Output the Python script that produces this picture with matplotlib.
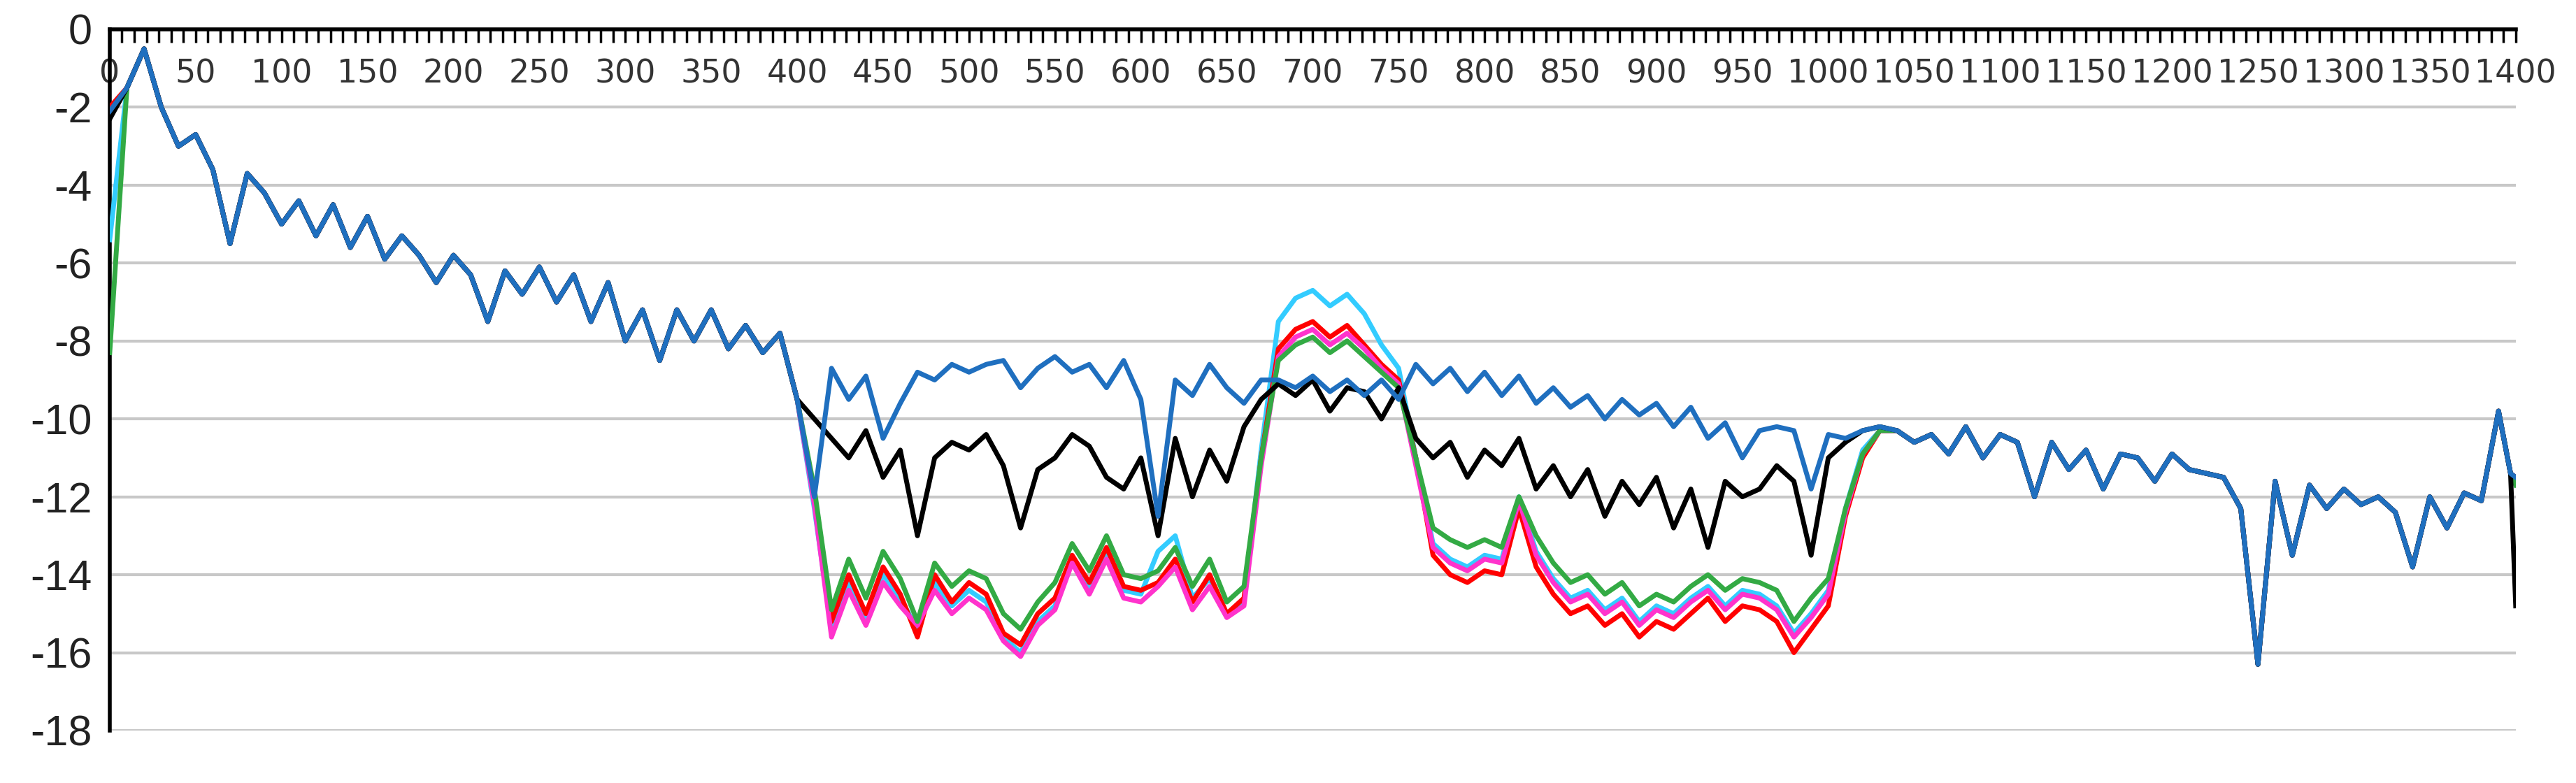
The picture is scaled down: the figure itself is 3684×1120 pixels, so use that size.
import numpy as np
import matplotlib
matplotlib.use("Agg")
import matplotlib.pyplot as plt

# x positions: shared head (0..400), divergent middle (410..1030), shared tail
x_head = list(range(0, 401, 10))
x_mid = list(range(410, 1031, 10))
x_tail = list(range(1040, 1391, 10)) + [1397, 1400]

head = [-2.0, -1.5, -0.5, -2.0, -3.0, -2.7, -3.6, -5.5, -3.7, -4.2,
        -5.0, -4.4, -5.3, -4.5, -5.6, -4.8, -5.9, -5.3, -5.8, -6.5,
        -5.8, -6.3, -7.5, -6.2, -6.8, -6.1, -7.0, -6.3, -7.5, -6.5,
        -8.0, -7.2, -8.5, -7.2, -8.0, -7.2, -8.2, -7.6, -8.3, -7.8, -9.5]
start = {"red": -2.0, "magenta": -2.2, "green": -8.3, "cyan": -5.4,
         "black": -2.3, "blue": -2.1}

tail = [-10.3, -10.6, -10.4, -10.9, -10.2, -11.0, -10.4, -10.6, -12.0, -10.6,
        -11.3, -10.8, -11.8, -10.9, -11.0, -11.6, -10.9, -11.3, -11.4, -11.5,
        -12.3, -16.3, -11.6, -13.5, -11.7, -12.3, -11.8, -12.2, -12.0, -12.4,
        -13.8, -12.0, -12.8, -11.9, -12.1, -9.8, -11.4, -11.5]
end = {"red": -11.5, "magenta": -11.6, "green": -11.7, "cyan": -11.5,
       "black": -14.8, "blue": -11.5}

mid = {
    "red": [-12.0, -15.2, -14.0, -15.0, -13.8, -14.5, -15.6, -14.0, -14.7, -14.2,
            -14.5, -15.5, -15.8, -15.0, -14.6, -13.5, -14.2, -13.3, -14.3, -14.4,
            -14.2, -13.6, -14.7, -14.0, -15.0, -14.6, -11.0, -8.2, -7.7, -7.5,
            -7.9, -7.6, -8.1, -8.6, -9.0, -11.0, -13.5, -14.0, -14.2, -13.9,
            -14.0, -12.3, -13.8, -14.5, -15.0, -14.8, -15.3, -15.0, -15.6, -15.2,
            -15.4, -15.0, -14.6, -15.2, -14.8, -14.9, -15.2, -16.0, -15.4, -14.8,
            -12.5, -11.0, -10.3],
    "magenta": [-12.2, -15.6, -14.4, -15.3, -14.2, -14.8, -15.3, -14.4, -15.0, -14.6,
                -14.9, -15.7, -16.1, -15.3, -14.9, -13.7, -14.5, -13.6, -14.6, -14.7,
                -14.3, -13.8, -14.9, -14.3, -15.1, -14.8, -11.2, -8.4, -7.9, -7.7,
                -8.1, -7.8, -8.2, -8.7, -9.1, -11.2, -13.3, -13.7, -13.9, -13.6,
                -13.7, -12.1, -13.5, -14.2, -14.7, -14.5, -15.0, -14.7, -15.3, -14.9,
                -15.1, -14.7, -14.4, -14.9, -14.5, -14.6, -14.9, -15.6, -15.1, -14.5,
                -12.4, -10.9, -10.3],
    "green": [-11.8, -14.9, -13.6, -14.6, -13.4, -14.1, -15.2, -13.7, -14.3, -13.9,
              -14.1, -15.0, -15.4, -14.7, -14.2, -13.2, -13.9, -13.0, -14.0, -14.1,
              -13.9, -13.3, -14.3, -13.6, -14.7, -14.3, -11.0, -8.5, -8.1, -7.9,
              -8.3, -8.0, -8.4, -8.8, -9.2, -11.0, -12.8, -13.1, -13.3, -13.1,
              -13.3, -12.0, -13.0, -13.7, -14.2, -14.0, -14.5, -14.2, -14.8, -14.5,
              -14.7, -14.3, -14.0, -14.4, -14.1, -14.2, -14.4, -15.2, -14.6, -14.1,
              -12.3, -10.9, -10.3],
    "cyan": [-12.3, -15.4, -14.2, -15.1, -14.0, -14.6, -15.4, -14.2, -14.8, -14.4,
             -14.7, -15.6, -16.0, -15.2, -14.8, -13.6, -14.3, -13.5, -14.4, -14.5,
             -13.4, -13.0, -14.6, -14.1, -15.0, -14.7, -10.8, -7.5, -6.9, -6.7,
             -7.1, -6.8, -7.3, -8.1, -8.7, -11.0, -13.2, -13.6, -13.8, -13.5,
             -13.6, -12.0, -13.4, -14.1, -14.6, -14.4, -14.9, -14.6, -15.2, -14.8,
             -15.0, -14.6, -14.3, -14.8, -14.4, -14.5, -14.8, -15.5, -15.0, -14.4,
             -12.3, -10.8, -10.3],
    "black": [-10.0, -10.5, -11.0, -10.3, -11.5, -10.8, -13.0, -11.0, -10.6, -10.8,
              -10.4, -11.2, -12.8, -11.3, -11.0, -10.4, -10.7, -11.5, -11.8, -11.0,
              -13.0, -10.5, -12.0, -10.8, -11.6, -10.2, -9.5, -9.1, -9.4, -9.0,
              -9.8, -9.2, -9.3, -10.0, -9.2, -10.5, -11.0, -10.6, -11.5, -10.8,
              -11.2, -10.5, -11.8, -11.2, -12.0, -11.3, -12.5, -11.6, -12.2, -11.5,
              -12.8, -11.8, -13.3, -11.6, -12.0, -11.8, -11.2, -11.6, -13.5, -11.0,
              -10.6, -10.3, -10.2],
    "blue": [-12.0, -8.7, -9.5, -8.9, -10.5, -9.6, -8.8, -9.0, -8.6, -8.8,
             -8.6, -8.5, -9.2, -8.7, -8.4, -8.8, -8.6, -9.2, -8.5, -9.5,
             -12.5, -9.0, -9.4, -8.6, -9.2, -9.6, -9.0, -9.0, -9.2, -8.9,
             -9.3, -9.0, -9.4, -9.0, -9.5, -8.6, -9.1, -8.7, -9.3, -8.8,
             -9.4, -8.9, -9.6, -9.2, -9.7, -9.4, -10.0, -9.5, -9.9, -9.6,
             -10.2, -9.7, -10.5, -10.1, -11.0, -10.3, -10.2, -10.3, -11.8, -10.4,
             -10.5, -10.3, -10.2],
}

colors = {"cyan": "#33CCFF", "red": "#FF0000", "magenta": "#FF33CC",
          "green": "#33AA44", "black": "#000000", "blue": "#1F6FBF"}
order = ["cyan", "red", "magenta", "green", "black", "blue"]

fig = plt.figure(figsize=(36.84, 11.2), dpi=100)
ax = fig.add_axes([0.0426, 0.067, 0.934, 0.8955])

xs = np.array(x_head + x_mid + x_tail)
for name in order:
    ys = [start[name]] + head[1:] + mid[name] + tail[:-1] + [end[name]]
    ax.plot(xs, ys, color=colors[name], lw=5, zorder=3)

ax.set_xlim(0, 1400)
ax.set_ylim(-18, 0)
ax.set_yticks(np.arange(-18, 1, 2))
ax.set_yticklabels([str(v) for v in range(-18, 1, 2)],
                   fontsize=44, family="Liberation Sans", color="#222222")
ax.yaxis.grid(True, color="#C8C8C8", lw=3)
ax.set_axisbelow(True)

ax.set_xticks(np.arange(0, 1401, 50))
ax.set_xticklabels([str(v) for v in range(0, 1401, 50)],
                   fontsize=33, color="#333333")
ax.set_xticks(np.arange(0, 1405, 50 / 7), minor=True)
ax.tick_params(axis="x", which="both", top=True, labeltop=True, bottom=False,
               labelbottom=False, direction="in", pad=-62, length=14, width=2.5)
ax.tick_params(axis="y", length=0, pad=18)

for side in ["right", "bottom"]:
    ax.spines[side].set_visible(False)
ax.spines["top"].set_linewidth(4)
ax.spines["left"].set_linewidth(4)

fig.savefig("out.png", dpi=100)
